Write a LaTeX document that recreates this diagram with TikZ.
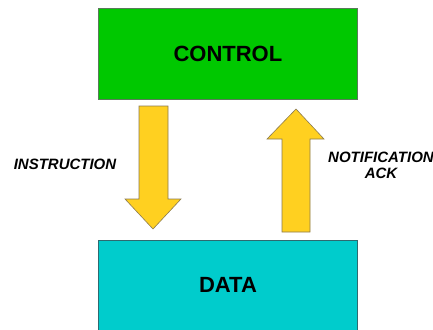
\documentclass[tikz,border=0pt]{standalone}
\usepackage{fontspec}
\setmainfont{Liberation Sans}
\begin{document}
\begin{tikzpicture}[x=1pt,y=-1pt,
  block/.style={draw=#1, line width=0.8pt, minimum width=259pt, anchor=north west, inner sep=0pt},
  blockarrow/.style={fill=arrowfill, draw=arrowedge, line width=0.6pt, line join=miter},
  label/.style={font=\bfseries\itshape\fontsize{15}{17}\selectfont, align=center, inner sep=0pt}]
\definecolor{ctrlgreen}{HTML}{00C800}
\definecolor{ctrledge}{HTML}{5A7A5A}
\definecolor{datacyan}{HTML}{00CCCC}
\definecolor{dataedge}{HTML}{2E6A70}
\definecolor{arrowfill}{HTML}{FFD020}
\definecolor{arrowedge}{HTML}{8A7A50}
\clip (0,0) rectangle (433,329);
\useasboundingbox (0,0) rectangle (433,329);

% the two layers
\node[block=ctrledge, fill=ctrlgreen, minimum height=91pt] (control) at (98,8) {};
\node[font=\bfseries\fontsize{22}{26}\selectfont] (ctrltext) at (control.center) {CONTROL};
\node[block=dataedge, fill=datacyan, minimum height=100pt] (data) at (98,240) {};
\node[font=\bfseries\fontsize{22}{26}\selectfont] (datatext) at (228,285) {DATA};

% downward block arrow: instruction
\draw[blockarrow] (139,106) -- (168,106) -- (168,199) -- (181,199) -- (153,229)
  -- (125,199) -- (139,199) -- cycle;
% upward block arrow: notification / ack
\draw[blockarrow] (282,232) -- (282,139) -- (267,139) -- (296,109) -- (324,139)
  -- (310,139) -- (310,232) -- cycle;

\node[label] (instr) at (65,164) {INSTRUCTION};
\node[label] (notif) at (381,165.5) {NOTIFICATION\\[-1pt]ACK};
\end{tikzpicture}
\end{document}
